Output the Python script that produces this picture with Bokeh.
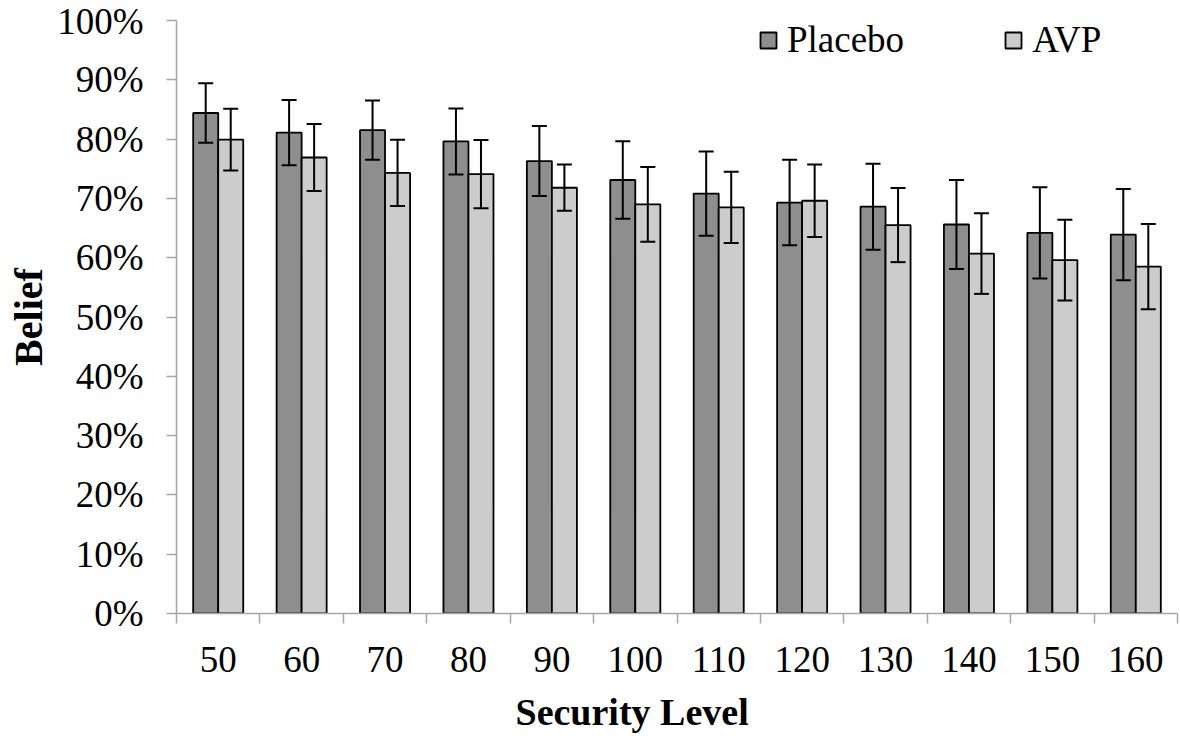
from bokeh.plotting import figure
from bokeh.models import (ColumnDataSource, FixedTicker, NumeralTickFormatter, Whisker,
                          TeeHead, Legend, LegendItem, Title, Range1d)
from bokeh.embed import file_html
from bokeh.resources import INLINE

levels = ["50", "60", "70", "80", "90", "100", "110", "120", "130", "140", "150", "160"]
placebo = [84.4, 81.1, 81.5, 79.6, 76.3, 73.1, 70.8, 69.3, 68.6, 65.6, 64.2, 63.9]
placebo_err = [5.0, 5.5, 5.0, 5.55, 5.9, 6.55, 7.1, 7.2, 7.25, 7.5, 7.7, 7.7]
avp = [79.9, 76.9, 74.3, 74.1, 71.8, 69.0, 68.5, 69.6, 65.5, 60.7, 59.6, 58.5]
avp_err = [5.2, 5.65, 5.6, 5.75, 3.9, 6.3, 6.0, 6.1, 6.25, 6.8, 6.8, 7.2]

BW = 0.3
centers = [i + 0.5 for i in range(len(levels))]

def make_src(vals, errs, shift):
    return ColumnDataSource(dict(
        x=[c + shift for c in centers],
        top=[v / 100 for v in vals],
        upper=[(v + e) / 100 for v, e in zip(vals, errs)],
        lower=[(v - e) / 100 for v, e in zip(vals, errs)],
    ))

src_p = make_src(placebo, placebo_err, -BW / 2)
src_a = make_src(avp, avp_err, BW / 2)

FONT = "Liberation Serif"
AXIS_COLOR = "#a6a6a6"

p = figure(width=1180, height=747, output_backend="svg", toolbar_location=None,
           x_range=Range1d(0, len(levels)), y_range=Range1d(0, 1.0),
           min_border_left=176, min_border_right=3, min_border_top=20, min_border_bottom=134)
p.outline_line_color = None
p.grid.grid_line_color = None
p.background_fill_color = "white"

r_p = p.vbar(x="x", top="top", width=BW, source=src_p, fill_color="#8e8e8e",
             line_color="black", line_width=1.8)
r_a = p.vbar(x="x", top="top", width=BW, source=src_a, fill_color="#cccccc",
             line_color="black", line_width=1.8)

for src in (src_p, src_a):
    w = Whisker(source=src, base="x", upper="upper", lower="lower", line_width=2,
                line_color="black", level="annotation",
                upper_head=TeeHead(size=15, line_width=2, line_color="black"),
                lower_head=TeeHead(size=15, line_width=2, line_color="black"))
    p.add_layout(w)

# y axis
p.yaxis.ticker = FixedTicker(ticks=[i / 10 for i in range(11)])
p.yaxis.formatter = NumeralTickFormatter(format="0%")
p.yaxis.major_label_text_font = FONT
p.yaxis.major_label_text_font_size = "37px"
p.yaxis.major_label_text_color = "black"
p.yaxis.major_tick_out = 10
p.yaxis.major_tick_in = 0
p.yaxis.minor_tick_line_color = None
p.yaxis.axis_line_color = AXIS_COLOR
p.yaxis.major_tick_line_color = AXIS_COLOR
p.yaxis.axis_line_width = 1.5
p.yaxis.major_tick_line_width = 1.5
p.yaxis.major_label_standoff = 23
p.yaxis.axis_label = "Belief"
p.yaxis.axis_label_text_font = FONT
p.yaxis.axis_label_text_font_style = "bold"
p.yaxis.axis_label_text_font_size = "40px"
p.yaxis.axis_label_text_color = "black"
p.yaxis.axis_label_standoff = 3

# x axis
p.xaxis.ticker = FixedTicker(ticks=centers, minor_ticks=list(range(len(levels) + 1)))
p.xaxis.major_label_overrides = {c: lab for c, lab in zip(centers, levels)}
p.xaxis.major_label_text_font = FONT
p.xaxis.major_label_text_font_size = "37px"
p.xaxis.major_label_text_color = "black"
p.xaxis.major_tick_out = 0
p.xaxis.major_tick_in = 0
p.xaxis.major_tick_line_color = None
p.xaxis.minor_tick_out = 10
p.xaxis.minor_tick_in = 0
p.xaxis.minor_tick_line_color = AXIS_COLOR
p.xaxis.minor_tick_line_width = 1.5
p.xaxis.axis_line_color = AXIS_COLOR
p.xaxis.axis_line_width = 1.5
p.xaxis.major_label_standoff = 23

p.add_layout(Title(text="Security Level", align="left", offset=339, text_font=FONT,
                   text_font_style="bold", text_font_size="38px", text_color="black",
                   standoff=28), "below")

legend = Legend(items=[LegendItem(label="Placebo", renderers=[r_p]),
                       LegendItem(label="AVP", renderers=[r_a])],
                orientation="horizontal", location=(582, 552),
                glyph_width=20, glyph_height=20, label_standoff=9, spacing=99,
                label_height=40, padding=0, margin=0, border_line_color=None,
                background_fill_alpha=0,
                label_text_font=FONT, label_text_font_size="37px", label_text_color="black")
p.add_layout(legend)

open("out.html", "w").write(file_html(p, INLINE))
